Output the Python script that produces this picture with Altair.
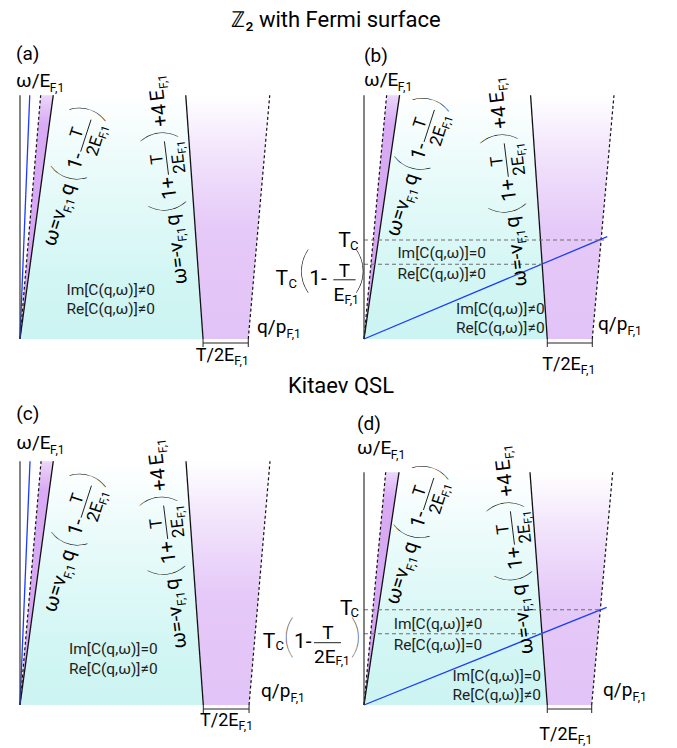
import math
import altair as alt
import pandas as pd

FONT = "Roboto"
PAREN_FONT = "Lato"

# ---------------- scales / panel geometry ----------------
PX_Q = [130, 116, 130, 116]          # pixels per q/p_F unit in each panel
PX_W = 92                            # pixels per omega unit
HEIGHT = 244
WIDTH = [289, 281, 289, 281]
Q_MAX = [w / p for w, p in zip(WIDTH, PX_Q)]
W_MAX = HEIGHT / PX_W

# ---------------- data (panels a, b, c, d) ----------------
W_TOP = [2.65, 2.65, 2.65, 2.53]
Q_DASH_L = [0.159, 0.195, 0.162, 0.187]
Q_SOLID_L = [0.256, 0.307, 0.256, 0.302]
Q_SOLID_R_TOP = [1.275, 1.436, 1.277, 1.431]
Q_SOLID_R_BOT = [1.408, 1.580, 1.410, 1.580]
Q_DASH_R_TOP = [1.921, 2.155, 1.923, 2.144]
Q_DASH_R_BOT = [1.756, 1.968, 1.762, 1.963]
BLUE_Q = [0.075, 2.097, 0.077, 2.092]
BLUE_W = [2.65, 1.113, 2.65, 1.062]
TC = [None, 1.076, None, 1.036]
TC_Q_END = [None, 2.069, None, 2.063]
TC_LOW = [None, 0.812, None, 0.775]
TC_LOW_Q_END = [None, 1.537, None, 1.537]

X_TICKS = [[round(0.1 * k, 1) for k in range(1, 23)], [round(0.1 * k, 1) for k in range(1, 25)],
           [round(0.1 * k, 1) for k in range(1, 23)], [round(0.1 * k, 1) for k in range(1, 25)]]
Y_TICKS = [round(0.1 * k, 1) for k in range(1, 21)]

REGION_TEXT = [
    [("Im[C(q,ω)]≠0", 0.698, 0.536), ("Re[C(q,ω)]≠0", 0.698, 0.326)],
    [("Im[C(q,ω)]=0", 0.67, 0.93), ("Re[C(q,ω)]≠0", 0.67, 0.707),
     ("Im[C(q,ω)]≠0", 1.175, 0.323), ("Re[C(q,ω)]≠0", 1.175, 0.116)],
    [("Im[C(q,ω)]=0", 0.718, 0.609), ("Re[C(q,ω)]≠0", 0.718, 0.391)],
    [("Im[C(q,ω)]≠0", 0.638, 0.884), ("Re[C(q,ω)]=0", 0.638, 0.655),
     ("Im[C(q,ω)]=0", 1.144, 0.312), ("Re[C(q,ω)]≠0", 1.144, 0.112)],
]
PANEL_LABELS = ["(a)", "(b)", "(c)", "(d)"]
ROW_TITLES = ["ℤ₂ with Fermi surface", None, "Kitaev QSL", None]

# formula anchors (start of the omega baseline)
F1_Q = [0.268, 0.295, 0.271, 0.290]
F1_W = [0.997, 1.103, 0.997, 1.081]
F2_Q = [1.284, 1.403, 1.278, 1.456]
F2_W = [0.602, 0.580, 0.621, 0.559]
F1_ANGLE, F2_ANGLE = 288, 263
BRACKET_LABEL_Q = [1.352, 1.537, 1.385, 1.511]
BRACKET_LABEL_DY = [22, 31, 20.6, 35]
QP_DX = [-52, -47, -48, -42]
QP_DY = [-6, -9, -7.7, -8.7]
HEAD_OFFS = [(-4, -35, -8), (0, -33, -9), (-3.7, -41, -12), (-7, -31, -7)]

# ---------------- text helpers ----------------
EM = {'ω': 0.80, '=': 0.55, '-': 0.28, '+': 0.57, 'v': 0.49, 'q': 0.57, 'p': 0.57, '(': 0.34,
      ')': 0.35, '1': 0.56, '2': 0.56, '4': 0.56, 'T': 0.60, 'E': 0.57, 'F': 0.55, ',': 0.20,
      ' ': 0.25, '/': 0.41, 'C': 0.65}


def tw(s, size):
    return sum(EM.get(c, 0.56) for c in s) * size


M, S, F, SS, P, PDY = 20, 12, 17, 11, 44, 4


def formula(lead, inner, tail):
    pcs, bars = [], []
    x = 0.0
    pcs.append((lead, M, x, 0, "L")); x += tw(lead, M)
    pcs.append(("F,1", S, x, 5, "L")); x += tw("F,1", S) + 1
    pcs.append(("q", M, x, 0, "L")); x += tw("q", M) + 2
    pcs.append(("(", P, x, PDY, "P")); x += 0.30 * P
    pcs.append((inner, M, x, 0, "L")); x += tw(inner, M) + 2
    fw = tw("2E", F) + tw("F,1", SS)
    pcs.append(("T", F, x + fw / 2, -9, "C"))
    bars.append((x, x + fw, -5))
    pcs.append(("2E", F, x, 12, "L"))
    pcs.append(("F,1", SS, x + tw("2E", F), 15, "L"))
    x += fw + 1
    pcs.append((")", P, x, PDY, "P")); x += 0.30 * P
    if tail:
        x += 1
        pcs.append((tail, M, x, 0, "L")); x += tw(tail, M) + 3
        pcs.append(("E", M, x, 0, "L")); x += tw("E", M)
        pcs.append(("F,1", S, x, 5, "L"))
    return pcs, bars


TC_UP_PIECES = {1: [("T", 21, -25.7, 6.6, "L"), ("C", 13, -14, 10, "L")],
                3: [("T", 21, -24, 5, "L"), ("C", 13, -13.5, 7.5, "L")]}
TC_LOW_PIECES = {
    1: ([("T", 21, -88.4, 20.7, "L"), ("C", 13, -75.5, 24, "L"), ("(", 50, -66, 23, "P"),
         ("1-", 21, -54.7, 20.7, "L"), ("T", 19, -19.5, 12.5, "C"), ("E", 19, -30.5, 37, "L"),
         ("F,1", 12, -19.5, 40, "L"), (")", 50, -10, 23, "P")], [(-30.7, -8.4, 15.5)]),
    3: ([("T", 21, -101.3, 14.3, "L"), ("C", 13, -88.5, 16.6, "L"), ("(", 46, -81, 18, "P"),
         ("1-", 21, -70, 14.3, "L"), ("T", 19, -36, 5.5, "C"), ("2E", 19, -50, 29, "L"),
         ("F,1", 12, -28.5, 31.5, "L"), (")", 46, -14, 18, "P")], [(-50, -23, 9)]),
}

KIND_STYLE = {
    "L": dict(align="left", baseline="alphabetic", color="#000000", font=FONT),
    "C": dict(align="center", baseline="alphabetic", color="#000000", font=FONT),
    "P": dict(align="left", baseline="alphabetic", color="#000000", font=PAREN_FONT, fontWeight=100),
    "R": dict(align="center", baseline="middle", color="#1e1e1e", font=FONT),
}
RULE_STYLE = {
    "solid": dict(color="#111111", strokeWidth=1.3),
    "dash": dict(color="#111111", strokeWidth=1.2, strokeDash=[3, 2.5]),
    "blue": dict(color="#1a3cff", strokeWidth=1.3),
    "gdash": dict(color="#6e6e6e", strokeWidth=1.1, strokeDash=[4, 3]),
    "thin": dict(color="#222222", strokeWidth=1.0),
    "axis": dict(color="#333333", strokeWidth=1.2),
}


def grad(stops):
    return alt.Gradient(gradient="linear", x1=0, y1=0, x2=0, y2=1,
                        stops=[alt.GradientStop(color=c, offset=o) for c, o in stops])


CYAN = grad([("#ffffff", 0.0), ("#eafbfa", 0.3), ("#d2f6f4", 0.75), ("#ccf4f2", 1.0)])
PURPLE_R = grad([("#ffffff", 0.0), ("#f3e6fc", 0.22), ("#e5c9f8", 0.55), ("#e2c3f7", 1.0)])
PURPLE_L = grad([("#ecd6fa", 0.0), ("#d9abf4", 0.12), ("#d4a2f2", 1.0)])


def place(i, q0, w0, dx, dy, angle=0):
    a = math.radians(angle)
    ox = dx * math.cos(a) - dy * math.sin(a)
    oy = dx * math.sin(a) + dy * math.cos(a)
    return q0 + ox / PX_Q[i], w0 - oy / PX_W


def panel(i):
    xs = alt.Scale(domain=[0, Q_MAX[i]], nice=False, zero=False)
    ys = alt.Scale(domain=[0, W_MAX], nice=False, zero=False)
    texts, rules = [], []

    def add_pieces(q0, w0, pieces, angle=0):
        for (t, size, dx, dy, kind) in pieces:
            q, w = place(i, q0, w0, dx, dy, angle)
            texts.append(dict(q=q, w=w, t=t, size=size, angle=angle, kind=kind))

    def add_bars(q0, w0, bars, angle=0):
        for (d1, d2, dy) in bars:
            q1, w1 = place(i, q0, w0, d1, dy, angle)
            q2, w2 = place(i, q0, w0, d2, dy, angle)
            rules.append(dict(q1=q1, w1=w1, q2=q2, w2=w2, style="thin"))

    # boundary lines
    rules += [
        dict(q1=0, w1=0, q2=0, w2=W_TOP[i], style="axis"),
        dict(q1=0, w1=0, q2=Q_DASH_L[i], w2=W_TOP[i], style="dash"),
        dict(q1=0, w1=0, q2=Q_SOLID_L[i], w2=W_TOP[i], style="solid"),
        dict(q1=Q_SOLID_R_BOT[i], w1=0, q2=Q_SOLID_R_TOP[i], w2=W_TOP[i], style="solid"),
        dict(q1=Q_DASH_R_BOT[i], w1=0, q2=Q_DASH_R_TOP[i], w2=W_TOP[i], style="dash"),
        dict(q1=0, w1=0, q2=BLUE_Q[i], w2=BLUE_W[i], style="blue"),
    ]
    if TC[i] is not None:
        rules.append(dict(q1=0, w1=TC[i], q2=TC_Q_END[i], w2=TC[i], style="gdash"))
        rules.append(dict(q1=0, w1=TC_LOW[i], q2=TC_LOW_Q_END[i], w2=TC_LOW[i], style="gdash"))
        add_pieces(0, TC[i], TC_UP_PIECES[i])
        pcs, bars = TC_LOW_PIECES[i]
        add_pieces(0, TC_LOW[i], pcs)
        add_bars(0, TC_LOW[i], bars)
    # bracket T/2E under the axis
    off, tk = 4 / PX_W, 8 / PX_W
    rules += [
        dict(q1=Q_SOLID_R_BOT[i], w1=-off, q2=Q_DASH_R_BOT[i], w2=-off, style="thin"),
        dict(q1=Q_SOLID_R_BOT[i], w1=0, q2=Q_SOLID_R_BOT[i], w2=-tk, style="thin"),
        dict(q1=Q_DASH_R_BOT[i], w1=0, q2=Q_DASH_R_BOT[i], w2=-tk, style="thin"),
    ]
    dy = BRACKET_LABEL_DY[i]
    add_pieces(BRACKET_LABEL_Q[i], 0, [("T/2E", 18, 0, dy, "L"), ("F,1", 12, tw("T/2E", 18), dy + 4, "L")])
    # q/p label
    add_pieces(Q_MAX[i], 0, [("q/p", 19, QP_DX[i], QP_DY[i], "L"),
                             ("F,1", 12, QP_DX[i] + tw("q/p", 19), QP_DY[i] + 5, "L")])
    # panel label & omega label
    hx, hy1, hy2 = HEAD_OFFS[i]
    add_pieces(0, W_MAX, [(PANEL_LABELS[i], 19, hx, hy1, "L"), ("ω/E", 19, hx, hy2, "L"),
                          ("F,1", 12, hx + tw("ω/E", 19), hy2 + 5, "L")])
    if ROW_TITLES[i]:
        add_pieces(0, W_MAX, [(ROW_TITLES[i], 22, 316 if i == 0 else 321, -68, "C")])
    # region labels
    for (t, q, w) in REGION_TEXT[i]:
        texts.append(dict(q=q, w=w, t=t, size=15.5, angle=0, kind="R"))
    # formulas
    p1, b1 = formula("ω=v", "1-", None)
    add_pieces(F1_Q[i], F1_W[i], p1, F1_ANGLE)
    add_bars(F1_Q[i], F1_W[i], b1, F1_ANGLE)
    p2, b2 = formula("ω=-v", "1+", "+4")
    add_pieces(F2_Q[i], F2_W[i], p2, F2_ANGLE)
    add_bars(F2_Q[i], F2_W[i], b2, F2_ANGLE)

    layers = []
    # axes layer (also anchors the top-left of the whole figure in panel a)
    aq, aw = (-11 / PX_Q[i], W_MAX + 85 / PX_W) if i == 0 else (0, 0)
    labexpr = "abs(datum.value-1)<0.001 ? '1.0' : (abs(datum.value-2)<0.001 ? '2.0' : '')"
    layers.append(alt.Chart(pd.DataFrame({"q": [aq], "w": [aw]})).mark_point(
        opacity=0, size=1, strokeWidth=0).encode(
        x=alt.X("q:Q", scale=xs, axis=alt.Axis(
            values=X_TICKS[i], labelExpr=labexpr, tickSize=3, tickColor="#555555", tickWidth=1,
            domainColor="#444444", domainWidth=1.2, labelFont=FONT, labelFontSize=14,
            labelColor="#333333", labelPadding=2, labelOverlap=False, labelFlush=False,
            grid=False, title=None, zindex=1)),
        y=alt.Y("w:Q", scale=ys, axis=alt.Axis(
            values=Y_TICKS, labels=False, domain=False, tickSize=2, tickColor="#666666",
            grid=False, title=None, zindex=1))))

    areas = [
        (CYAN, [dict(w=0, ql=0, qr=Q_SOLID_R_BOT[i]), dict(w=W_TOP[i], ql=Q_SOLID_L[i], qr=Q_SOLID_R_TOP[i])]),
        (PURPLE_R, [dict(w=0, ql=Q_SOLID_R_BOT[i], qr=Q_DASH_R_BOT[i]),
                    dict(w=W_TOP[i], ql=Q_SOLID_R_TOP[i], qr=Q_DASH_R_TOP[i])]),
        (PURPLE_L, [dict(w=0, ql=0, qr=0), dict(w=W_TOP[i], ql=Q_DASH_L[i], qr=Q_SOLID_L[i])]),
    ]
    for g, rows in areas:
        layers.append(alt.Chart(pd.DataFrame(rows)).mark_area(orient="horizontal", color=g).encode(
            y=alt.Y("w:Q", scale=ys, axis=None), x=alt.X("ql:Q", scale=xs, axis=None), x2="qr:Q"))

    rdf = pd.DataFrame(rules)
    for st, sty in RULE_STYLE.items():
        sub = rdf[rdf["style"] == st]
        if len(sub) == 0:
            continue
        layers.append(alt.Chart(sub).mark_rule(**sty).encode(
            x=alt.X("q1:Q", scale=xs, axis=None), y=alt.Y("w1:Q", scale=ys, axis=None),
            x2="q2:Q", y2="w2:Q"))

    tdf = pd.DataFrame(texts)
    for kind, sty in KIND_STYLE.items():
        sub = tdf[tdf["kind"] == kind]
        if len(sub) == 0:
            continue
        layers.append(alt.Chart(sub).mark_text(**sty).encode(
            x=alt.X("q:Q", scale=xs, axis=None), y=alt.Y("w:Q", scale=ys, axis=None),
            text="t:N", size=alt.Size("size:Q", scale=None),
            angle=alt.Angle("angle:Q", scale=None)))

    return alt.layer(*layers).properties(width=WIDTH[i], height=HEIGHT)


chart = alt.concat(panel(0), panel(1), panel(2), panel(3), columns=2,
                   spacing={"row": 122, "column": 55}, bounds="flush").properties(
    padding=0).configure_view(stroke=None)

chart.save("out.html", embed_options={"renderer": "svg", "actions": False})
